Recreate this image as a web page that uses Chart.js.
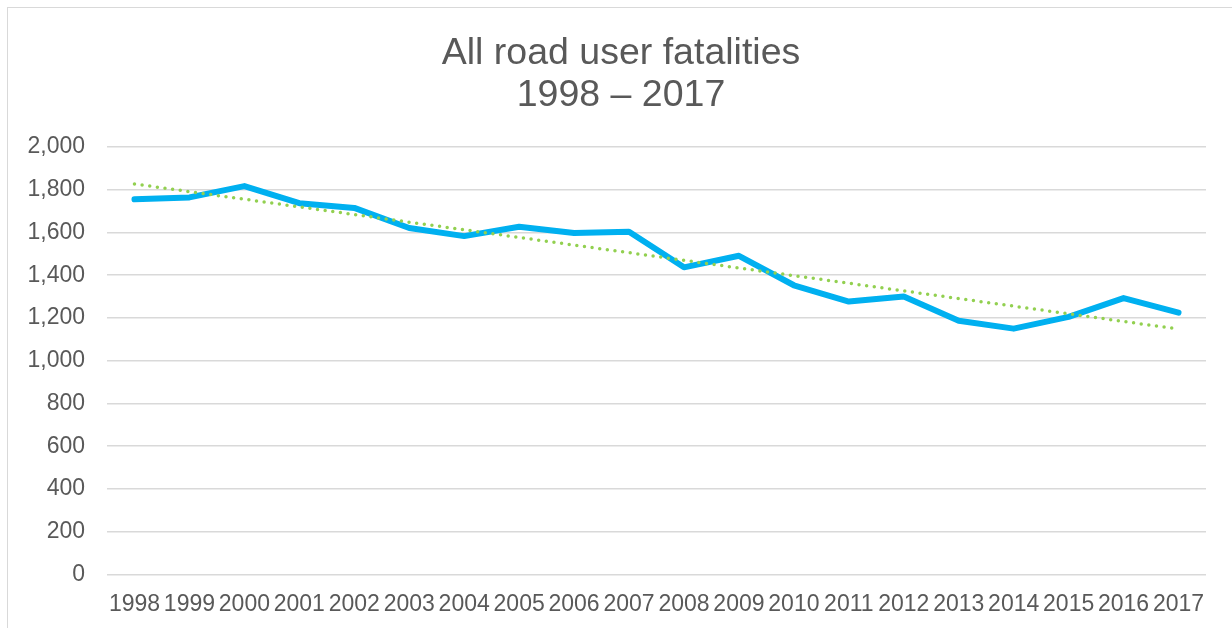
<!DOCTYPE html>
<html>
<head>
<meta charset="utf-8">
<script src="https://cdn.jsdelivr.net/npm/chart.js@4"></script>
<style>
  html, body { margin: 0; padding: 0; background: #fff; overflow: hidden; }
  #wrap { position: relative; width: 1232px; height: 628px; }
  #frame {
    position: absolute; left: 7px; top: 7px; width: 1300px; height: 700px;
    border: 1px solid #d9d9d9; pointer-events: none;
  }
</style>
</head>
<body>
<div id="wrap">
  <canvas id="roadChart" width="1232" height="628"></canvas>
  <div id="frame"></div>
</div>
<script>
// fatalities per year
const years = ["1998", "1999", "2000", "2001", "2002", "2003", "2004", "2005", "2006", "2007",
  "2008", "2009", "2010", "2011", "2012", "2013", "2014", "2015", "2016", "2017"];
const fatalities = [1755, 1764, 1817, 1737, 1715, 1621, 1583, 1627, 1598, 1603,
  1437, 1491, 1353, 1277, 1300, 1187, 1150, 1205, 1293, 1225];
// linear trend line: only its two ends, the line is drawn straight between them
const trendEnds = [1827, 1148];

const textColor = "#595959";
const fontFamily = "'Liberation Sans', Arial, sans-serif";

const trend = years.map((y, i) =>
  i === 0 ? trendEnds[0] : i === years.length - 1 ? trendEnds[1] : null
);

// the y labels sit left of the padded box (title is centred on the page), so don't clip them
const unclipY = {
  id: "unclipY",
  afterLayout: (chart) => {
    chart.scales.y.left = 0;
  },
};

const data = {
  type: "line",
  plugins: [unclipY],
  data: {
    labels: years,
    datasets: [
      {
        label: "Trend",
        data: trend,
        spanGaps: true,
        fill: false,
        borderColor: "#92D050",
        borderWidth: 3.5,
        borderDash: [0, 7.7],
        borderCapStyle: "round",
        pointRadius: 0,
        order: 0,
      },
      {
        label: "All road user fatalities",
        data: fatalities,
        fill: false,
        borderColor: "#00B0F0",
        borderWidth: 6,
        borderCapStyle: "round",
        borderJoinStyle: "round",
        tension: 0,
        pointRadius: 0,
        order: 1,
      },
    ],
  },
  options: {
    responsive: false,
    animation: false,
    layout: { padding: { left: 36, right: 26, top: 0, bottom: -6 } },
    plugins: {
      legend: { display: false },
      tooltip: { enabled: false },
      title: {
        display: true,
        text: ["All road user fatalities", "1998 \u2013 2017"],
        color: textColor,
        font: { family: fontFamily, size: 37.5, weight: "normal", lineHeight: 1.12 },
        padding: { top: 33, bottom: 30 },
      },
    },
    scales: {
      x: {
        offset: true,
        grid: { display: false, drawTicks: false },
        border: { display: false },
        ticks: {
          color: textColor,
          font: { family: fontFamily, size: 23 },
          padding: 16,
          autoSkip: false,
          maxRotation: 0,
          minRotation: 0,
        },
      },
      y: {
        min: 0,
        max: 2000,
        afterFit: (scale) => { scale.width = 71; },
        grid: { color: "#d9d9d9", lineWidth: 1.5, drawTicks: false },
        border: { display: false },
        ticks: {
          stepSize: 200,
          color: textColor,
          font: { family: fontFamily, size: 23 },
          padding: 22,
          callback: (v) => v.toLocaleString("en-US"),
        },
      },
    },
  },
};

const ctx = document.getElementById("roadChart").getContext("2d");
const roadChart = new Chart(ctx, data);
</script>
</body>
</html>
